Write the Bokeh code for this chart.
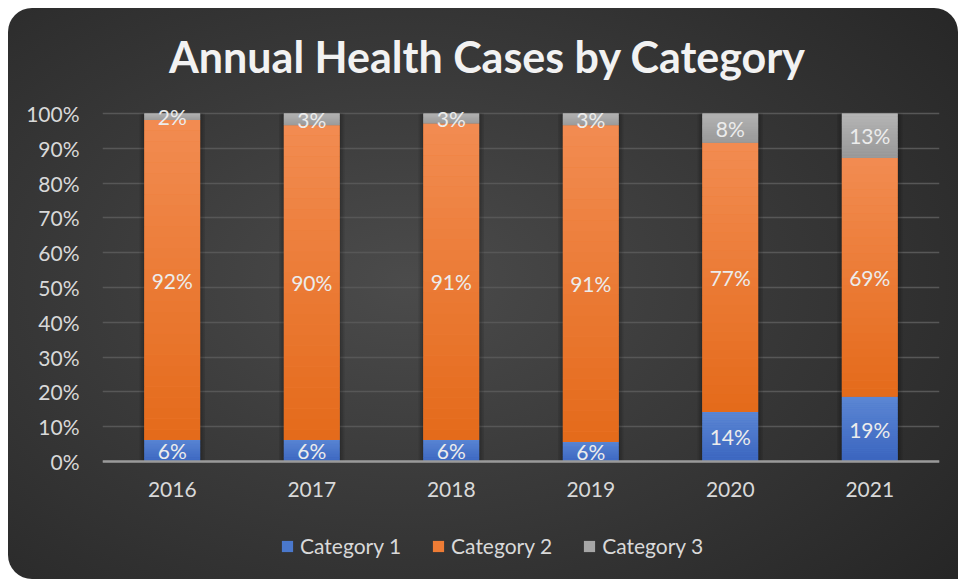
from bokeh.plotting import figure
from bokeh.models import (ColumnDataSource, FixedTicker, PrintfTickFormatter,
                          LabelSet, Label, Legend, LegendItem, Range1d)
from bokeh.core.properties import value
from bokeh.embed import file_html
from bokeh.resources import INLINE

# ---- data (percent share of each year's cases) ----
years = ["2016", "2017", "2018", "2019", "2020", "2021"]
cat1 = [6.2, 6.2, 6.2, 5.6, 14.2, 18.6]
cat2 = [91.9, 90.4, 90.9, 91.0, 77.4, 68.6]
cat3 = [1.9, 3.4, 2.9, 3.4, 8.4, 12.8]
series_names = ["Category 1", "Category 2", "Category 3"]
y_ticks = [0, 10, 20, 30, 40, 50, 60, 70, 80, 90, 100]
title_text = "Annual Health Cases by Category"

series = [cat1, cat2, cat3]
solid = ["#4a78cc", "#ee7c35", "#a6a6a6"]
grad_bottom = [(0x3a, 0x64, 0xbe), (0xe4, 0x6a, 0x1a), (0x97, 0x97, 0x97)]
grad_top = [(0x5c, 0x87, 0xd4), (0xf2, 0x8c, 0x52), (0xb5, 0xb5, 0xb5)]
FONT = "Lato"

W, H = 950, 571
PX_PER_PCT = 3.48          # 100% spans 348 px
ZERO_Y = 453               # px from figure top where 0% sits
p = figure(x_range=years, width=W, height=H, output_backend="svg",
           toolbar_location=None, min_border_left=94, min_border_right=19,
           min_border_top=0, min_border_bottom=0)
p.margin = (8, 0, 0, 8)
p.y_range = Range1d(-(H - ZERO_Y) / PX_PER_PCT, ZERO_Y / PX_PER_PCT)
p.styles = {"background": "radial-gradient(ellipse 75% 80% at 42% 48%, #4b4b4b 0%, #3a3a3a 45%, #262626 100%)",
            "border-radius": "24px 24px 0 24px", "overflow": "hidden"}
p.border_fill_color = None
p.background_fill_color = None
p.outline_line_color = None

# title (inside the tall frame, screen units from frame bottom-left)
p.add_layout(Label(x=385, y=H - 48, x_units="screen", y_units="screen",
                   text=title_text, text_align="center", text_baseline="middle",
                   text_font=FONT, text_font_size="43px", text_font_style="bold",
                   text_color="#f2f2f2"))

# shadows behind bars
totals = [a + b + c for a, b, c in zip(cat1, cat2, cat3)]
for w in (0.47, 0.445, 0.42):
    p.vbar(x=years, top=totals, bottom=0, width=w, fill_color="black",
           fill_alpha=0.09, line_color=None)

# solid stacked bars (used by legend)
src = ColumnDataSource(dict(x=years, c1=cat1, c2=cat2, c3=cat3))
rends = p.vbar_stack(["c1", "c2", "c3"], x="x", width=0.4, color=solid,
                     line_color=None, source=src)

# gradient overlay computed from data
N = 30
gx, gb, gt, gc = [], [], [], []
for si, vals in enumerate(series):
    for i, yr in enumerate(years):
        base = sum(series[k][i] for k in range(si))
        for j in range(N):
            f = (j + 0.5) / N
            col = tuple(int(round(grad_bottom[si][c] + (grad_top[si][c] - grad_bottom[si][c]) * f)) for c in range(3))
            gx.append(yr)
            gb.append(base + vals[i] * j / N)
            gt.append(base + vals[i] * (j + 1) / N + (0.02 if j < N - 1 else 0))
            gc.append("#%02x%02x%02x" % col)
p.vbar(x=gx, bottom=gb, top=gt, width=0.4, color=gc, line_color=None)

# labels
lx, ly, lt = [], [], []
for si, vals in enumerate(series):
    for i, yr in enumerate(years):
        base = sum(series[k][i] for k in range(si))
        lx.append(yr)
        ly.append(base + vals[i] / 2)
        lt.append(f"{vals[i]:.0f}%")
lsrc = ColumnDataSource(dict(x=lx, y=ly, t=lt))
p.add_layout(LabelSet(x="x", y="y", text="t", source=lsrc, text_align="center",
                      text_baseline="middle", text_font=value(FONT), text_font_size=value("21px"),
                      text_color=value("#ececec")))

# axes
p.yaxis.ticker = FixedTicker(ticks=y_ticks)
p.yaxis.formatter = PrintfTickFormatter(format="%d%%")
p.yaxis.axis_line_color = None
p.yaxis.major_tick_line_color = None
p.yaxis.minor_tick_line_color = None
p.yaxis.major_label_standoff = 17
for ax in (p.xaxis, p.yaxis):
    ax.major_label_text_font = FONT
    ax.major_label_text_font_size = "21px"
    ax.major_label_text_color = "#d9d9d9"
p.xaxis.fixed_location = 0
p.xaxis.axis_line_color = "#9a9a9a"
p.xaxis.axis_line_width = 2.5
p.xaxis.major_tick_line_color = None
p.xaxis.minor_tick_line_color = None
p.xaxis.major_label_standoff = 14
p.xgrid.grid_line_color = None
p.ygrid.grid_line_color = "#575757"
p.ygrid.grid_line_width = 1.5

legend = Legend(items=[LegendItem(label=series_names[k], renderers=[rends[k]]) for k in range(3)],
                orientation="horizontal", location=(178, 21),
                label_text_font=FONT, label_text_font_size="21px",
                label_text_color="#d9d9d9", glyph_width=14, glyph_height=14,
                label_standoff=6, spacing=30, padding=0, margin=0,
                background_fill_alpha=0, border_line_color=None)
p.add_layout(legend)

open("out.html", "w").write(file_html(p, INLINE))
